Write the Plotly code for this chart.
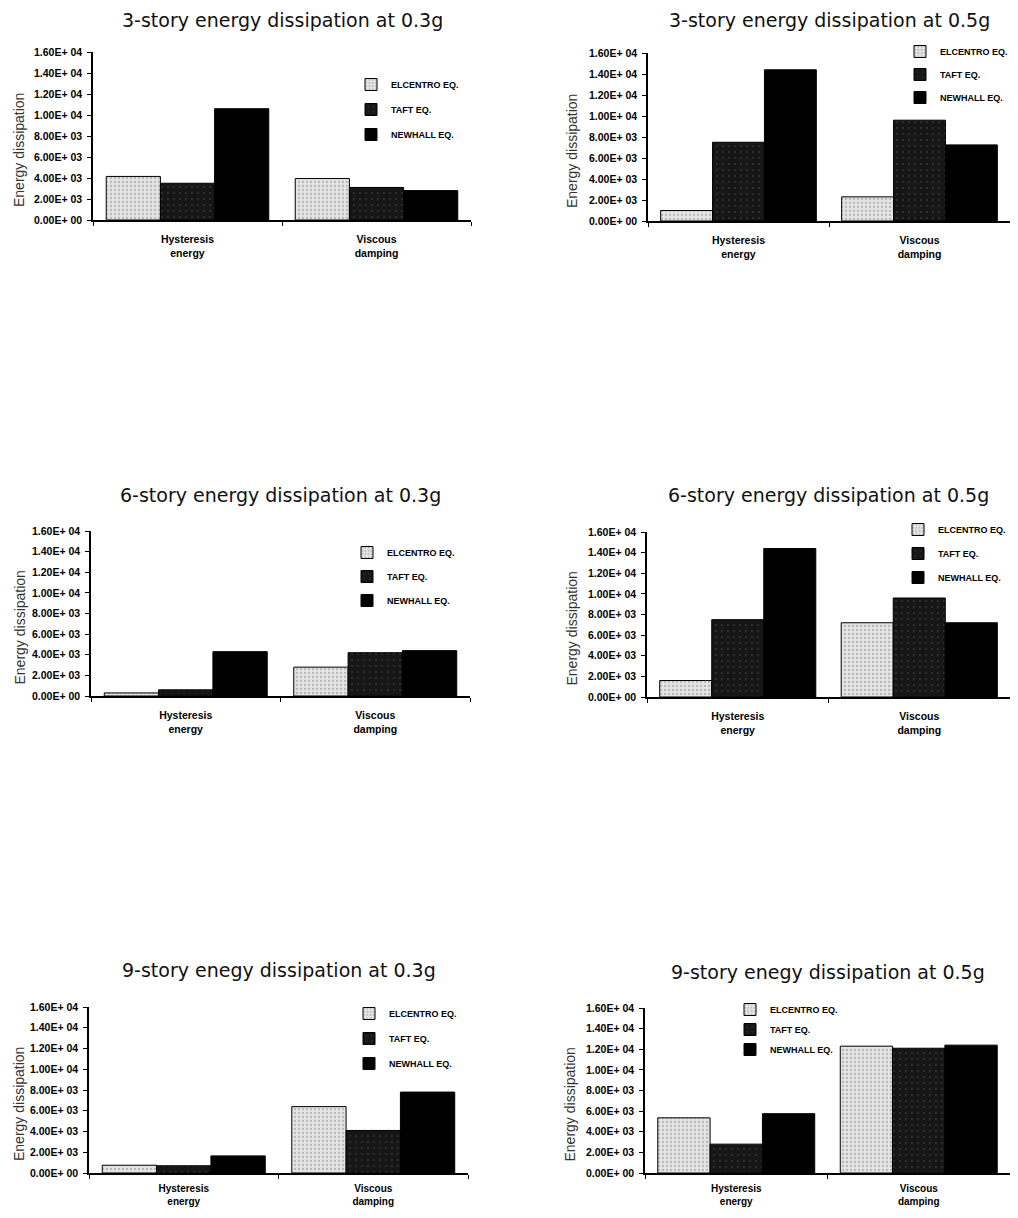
import plotly.graph_objects as go

PAGE_OFF = 8          # default body margin of the page
W, H = 1002, 1202     # figure size so that the page is exactly 1018 x 1218

CATEGORIES = ["Hysteresis<br>energy", "Viscous<br>damping"]
SERIES = ["ELCENTRO EQ.", "TAFT EQ.", "NEWHALL EQ."]
TICK_VALS = [0, 2000, 4000, 6000, 8000, 10000, 12000, 14000, 16000]
TICK_TEXT = ["0.00E+ 00", "2.00E+ 03", "4.00E+ 03", "6.00E+ 03", "8.00E+ 03",
             "1.00E+ 04", "1.20E+ 04", "1.40E+ 04", "1.60E+ 04"]
TITLES = ["3-story energy dissipation at 0.3g", "3-story energy dissipation at 0.5g",
          "6-story energy dissipation at 0.3g", "6-story energy dissipation at 0.5g",
          "9-story enegy dissipation at 0.3g", "9-story enegy dissipation at 0.5g"]

# values [Hysteresis, Viscous]
ELCENTRO_3S_03 = [4150, 3950]
TAFT_3S_03 = [3500, 3100]
NEWHALL_3S_03 = [10600, 2800]

ELCENTRO_3S_05 = [1000, 2300]
TAFT_3S_05 = [7500, 9600]
NEWHALL_3S_05 = [14400, 7250]

ELCENTRO_6S_03 = [300, 2800]
TAFT_6S_03 = [600, 4200]
NEWHALL_6S_03 = [4300, 4400]

ELCENTRO_6S_05 = [1600, 7200]
TAFT_6S_05 = [7500, 9600]
NEWHALL_6S_05 = [14400, 7200]

ELCENTRO_9S_03 = [750, 6400]
TAFT_9S_03 = [700, 4100]
NEWHALL_9S_03 = [1650, 7800]

ELCENTRO_9S_05 = [5350, 12300]
TAFT_9S_05 = [2800, 12100]
NEWHALL_9S_05 = [5750, 12400]

PANELS = [
    (ELCENTRO_3S_03, TAFT_3S_03, NEWHALL_3S_03),
    (ELCENTRO_3S_05, TAFT_3S_05, NEWHALL_3S_05),
    (ELCENTRO_6S_03, TAFT_6S_03, NEWHALL_6S_03),
    (ELCENTRO_6S_05, TAFT_6S_05, NEWHALL_6S_05),
    (ELCENTRO_9S_03, TAFT_9S_03, NEWHALL_9S_03),
    (ELCENTRO_9S_05, TAFT_9S_05, NEWHALL_9S_05),
]

# plot areas in page pixels: x0, x1, ytop, ybottom
BOXES = [(93, 471, 52, 220), (648, 1010, 53, 221),
         (91, 470, 531, 696), (647, 1010, 532, 697),
         (89, 468, 1007, 1173), (645, 1010, 1008, 1173)]
TITLE_Y = [20, 20, 495, 495, 970, 972]
# legend top-left (page px) and gap between items
LEGEND_POS = [(351, 70, 6), (900, 37, 4), (347, 538, 5), (898, 515, 5),
              (349, 999, 6), (730, 995, 1)]
XLABEL_STYLE = [(10.5, 9), (10.5, 9), (10.5, 9), (10.5, 9), (10, 5), (10, 5)]


def fx(px):
    return (px - PAGE_OFF) / W


def fy(py):
    return 1 - (py - PAGE_OFF) / H


STYLES = [
    dict(color="#e4e4e4", pattern=dict(shape=".", fgcolor="#8a8a8a", size=4, solidity=0.25),
         line=dict(color="#000", width=1)),
    dict(color="#161616", pattern=dict(shape=".", fgcolor="#555", size=6, solidity=0.08),
         line=dict(color="#000", width=1)),
    dict(color="#000000", line=dict(color="#000", width=1)),
]

fig = go.Figure()
layout = dict(width=W, height=H, margin=dict(l=0, r=0, t=0, b=0, autoexpand=False),
              paper_bgcolor="white", plot_bgcolor="white",
              barmode="group", bargap=0.14, bargroupgap=0,
              font=dict(family="Liberation Sans, Arial", color="#000"),
              annotations=[])

for i, (vals, box) in enumerate(zip(PANELS, BOXES)):
    n = "" if i == 0 else str(i + 1)
    xa, ya = "x" + n, "y" + n
    lg = "legend" + n
    for s, (name, v) in enumerate(zip(SERIES, vals)):
        fig.add_trace(go.Bar(x=CATEGORIES, y=v, name=name, xaxis=xa, yaxis=ya,
                             legend=lg, legendgroup=f"{i}_{s}", marker=STYLES[s]))
    x0, x1, yt, yb = box
    xfs, xso = XLABEL_STYLE[i]
    layout["xaxis" + n] = dict(domain=[fx(x0), fx(x1)], anchor=ya, showline=True,
                                linecolor="#000", linewidth=1.5, ticks="outside",
                                tickson="boundaries", ticklen=4, tickcolor="#000",
                                showgrid=False, zeroline=False, fixedrange=True,
                                automargin=False,
                                tickfont=dict(size=xfs, weight="bold"),
                                ticklabelstandoff=xso)
    layout["yaxis" + n] = dict(domain=[fy(yb), fy(yt)], anchor=xa, range=[0, 16000],
                                showline=True, linecolor="#000", linewidth=1.5,
                                ticks="outside", ticklen=4, tickcolor="#000",
                                tickvals=TICK_VALS, ticktext=TICK_TEXT,
                                showgrid=False, zeroline=False, fixedrange=True,
                                automargin=False, ticklabelstandoff=3,
                                tickfont=dict(size=10.5, weight="bold"))
    lx, ly, gap = LEGEND_POS[i]
    layout[lg] = dict(x=fx(lx), y=fy(ly), xanchor="left", yanchor="top",
                      bgcolor="rgba(0,0,0,0)", traceorder="grouped",
                      tracegroupgap=gap, itemwidth=30,
                      font=dict(size=9, weight="bold"))
    layout["annotations"].append(dict(
        text=TITLES[i], x=fx((x0 + x1) / 2), y=fy(TITLE_Y[i]), xref="paper", yref="paper",
        showarrow=False, xanchor="center", yanchor="middle",
        font=dict(family="DejaVu Sans", size=19, color="#111")))
    layout["annotations"].append(dict(
        text="Energy dissipation", x=fx(max(x0 - 76, 19)), y=fy((yt + yb) / 2 + 14),
        xref="paper", yref="paper", showarrow=False, textangle=-90,
        xanchor="center", yanchor="middle",
        font=dict(family="Liberation Sans, Arial", size=14, color="#333")))

fig.update_layout(**layout)
fig.write_html("out.html")
